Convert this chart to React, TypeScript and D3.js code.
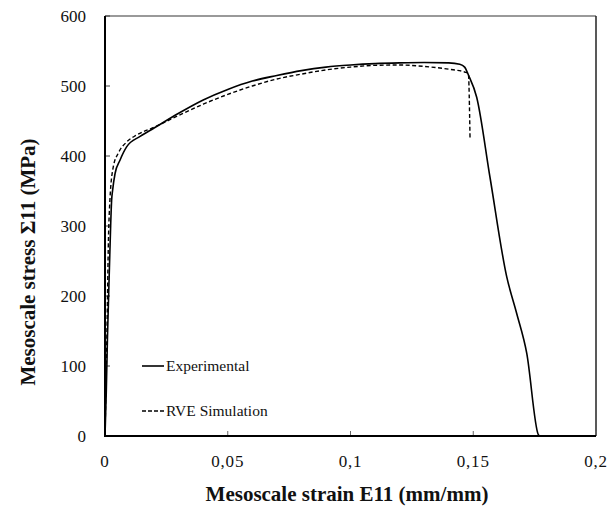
import React from "react";
import * as d3 from "d3";

const expStrain = [0, 0.0005, 0.001, 0.0018, 0.0023, 0.0027, 0.0031, 0.0041, 0.0061, 0.0088, 0.0143, 0.02, 0.03, 0.04, 0.05, 0.06, 0.07, 0.08, 0.09, 0.1, 0.11, 0.12, 0.13, 0.14, 0.1445, 0.1465, 0.148, 0.1514, 0.1568, 0.1636, 0.1677, 0.1718, 0.1765, 0.177];
const expStress = [0, 60, 140, 240, 300, 337, 351, 375, 394, 413, 428, 440, 461, 480, 495, 507, 515, 522, 527, 530, 532, 533, 533.5, 533, 531, 527, 516, 484, 370, 228, 175, 118, 2, 0];

const simStrain = [0, 0.0008, 0.0014, 0.002, 0.0034, 0.0054, 0.0088, 0.0129, 0.02, 0.03, 0.04, 0.05, 0.06, 0.07, 0.08, 0.09, 0.1, 0.11, 0.12, 0.13, 0.14, 0.1465, 0.148, 0.1487];
const simStress = [0, 150, 280, 337, 385, 404, 420, 430, 441, 458, 474, 488, 500, 510, 517, 523, 527, 529.5, 530, 528, 524, 520, 518, 423];

const xTicks = [0, 0.05, 0.1, 0.15, 0.2];
const xTickLabels = ["0", "0,05", "0,1", "0,15", "0,2"];
const yTicks = [0, 100, 200, 300, 400, 500, 600];

const legendLabels = ["Experimental", "RVE Simulation"];

const FAM = "Liberation Serif";

function T(props: any) {
  const { children, style, ...rest } = props;
  return (
    <text {...rest} fontFamily={FAM} style={{ fontFamily: `'${FAM}'`, ...(style || {}) }}>
      {children}
    </text>
  );
}

export default function App() {
  const W = 611, H = 508;
  const x = d3.scaleLinear().domain([0, 0.2]).range([105, 596]);
  const y = d3.scaleLinear().domain([0, 600]).range([436, 16]);
  const line = d3.line<[number, number]>().x(d => x(d[0])).y(d => y(d[1])).curve(d3.curveMonotoneX);
  const expPts = expStrain.map((s, i) => [s, expStress[i]] as [number, number]);
  const simPts = simStrain.map((s, i) => [s, simStress[i]] as [number, number]);

  return (
    <svg width={W} height={H} style={{ position: "absolute", left: 0, top: 0, background: "#fff" }}>
      <style>{`text { font-family: 'Liberation Serif', serif; }`}</style>
      {/* frame */}
      <line x1={x(0)} x2={x(0.2)} y1={y(600)} y2={y(600)} stroke="#777" strokeWidth={1.5} />
      <line x1={x(0.2)} x2={x(0.2)} y1={y(600)} y2={y(0)} stroke="#222" strokeWidth={1.5} />
      {yTicks.map(t => (
        <g key={"y" + t}>
          <line x1={x(0)} x2={x(0) + 5} y1={y(t)} y2={y(t)} stroke="#444" strokeWidth={1} />
          <T x={86} y={y(t) + 6} textAnchor="end" fontSize={17} fill="#111">{String(t)}</T>
        </g>
      ))}
      {xTicks.map((t, i) => (
        <g key={"x" + t}>
          <line x1={x(t)} x2={x(t)} y1={y(0)} y2={y(0) - 5} stroke="#666" strokeWidth={1} />
          <T x={x(t)} y={467} textAnchor="middle" fontSize={17} letterSpacing={0.8} fill="#111">{xTickLabels[i]}</T>
        </g>
      ))}
      <line x1={x(0)} x2={x(0.2)} y1={y(0)} y2={y(0)} stroke="#000" strokeWidth={2} />
      <line x1={x(0)} x2={x(0)} y1={y(0) + 1} y2={y(600)} stroke="#000" strokeWidth={2} />

      <path d={line(simPts) || ""} fill="none" stroke="#000" strokeWidth={1.4} strokeDasharray="4,2.5" />
      <path d={line(expPts) || ""} fill="none" stroke="#000" strokeWidth={1.6} />

      {/* legend */}
      <line x1={142} x2={164} y1={366} y2={366} stroke="#000" strokeWidth={1.6} />
      <T x={166} y={371} fontSize={15.5} fill="#111">{legendLabels[0]}</T>
      <line x1={142} x2={164} y1={411} y2={411} stroke="#000" strokeWidth={1.4} strokeDasharray="4,2" />
      <T x={166} y={416} fontSize={15.5} fill="#111">{legendLabels[1]}</T>

      {/* axis titles */}
      <T x={347} y={501} textAnchor="middle" fontSize={21} fontWeight="bold" fill="#111">
        Mesoscale strain E11 (mm/mm)
      </T>
      <T transform="translate(35, 262) rotate(-90)" textAnchor="middle" fontSize={21} fontWeight="bold" fill="#111">
        Mesoscale stress Σ11 (MPa)
      </T>
    </svg>
  );
}
